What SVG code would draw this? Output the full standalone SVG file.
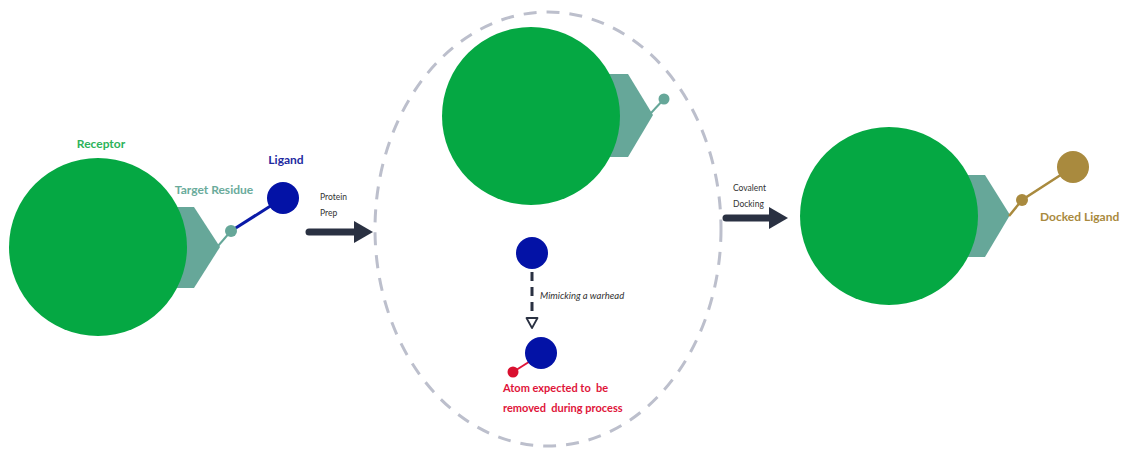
<svg xmlns="http://www.w3.org/2000/svg" width="1123" height="450" viewBox="0 0 1123 450">
<style>
.rec{fill:#05a843}
.res{fill:#66a799}
.lbl{font-family:Lato,"Noto Sans",sans-serif;font-weight:bold;font-size:12px}
.sm{font-family:Lato,"Noto Sans",sans-serif;font-size:8.5px;fill:#333}
.it{font-family:Lato,"Noto Sans",sans-serif;font-size:9.5px;font-style:italic;fill:#333}
.red{font-family:Lato,"Noto Sans",sans-serif;font-weight:bold;font-size:11px;fill:#e0153a;white-space:pre}
.big{fill:#2a3142}
</style>
<rect width="1123" height="450" fill="#fff"/>
<g id="boundary">
<ellipse cx="548" cy="229" rx="173" ry="217" fill="none" stroke="#bcbfcc" stroke-width="3" stroke-dasharray="13 10"/>
</g>
<g id="receptor-left">
<polygon class="res" points="170,207 194,207 220,247 194,288 170,288"/>
<circle class="rec" cx="98" cy="247" r="89"/>
<text class="lbl" x="101" y="148" text-anchor="middle" fill="#2db35a">Receptor</text>
<text class="lbl" x="214" y="194" text-anchor="middle" fill="#6aab9b">Target Residue</text>
</g>
<g id="ligand-left">
<line x1="218" y1="246" x2="231" y2="231" stroke="#66a799" stroke-width="2"/>
<line x1="231" y1="231" x2="283" y2="198" stroke="#0a1aa8" stroke-width="3"/>
<circle cx="231" cy="231" r="6" fill="#66a799"/>
<circle cx="283" cy="198" r="16" fill="#0312a6"/>
<text class="lbl" x="286" y="164" text-anchor="middle" fill="#1e2aa0">Ligand</text>
</g>
<g id="receptor-mid">
<polygon class="res" points="600,74 628,74 653,115 628,157 600,157"/>
<circle class="rec" cx="531" cy="116" r="89"/>
<line x1="651" y1="113" x2="664" y2="99" stroke="#66a799" stroke-width="2"/>
<circle cx="664" cy="99" r="5.5" fill="#66a799"/>
</g>
<g id="ligand-mid-top">
<circle cx="532" cy="253" r="16" fill="#0312a6"/>
</g>
<g id="ligand-mid-bottom">
<line x1="513" y1="372" x2="532" y2="360" stroke="#e0153a" stroke-width="2"/>
<circle cx="513" cy="372" r="5.5" fill="#d9102f"/>
<circle cx="541" cy="353" r="16" fill="#0312a6"/>
<text class="red" x="503" y="392" xml:space="preserve">Atom expected to  be</text>
<text class="red" x="503" y="412" xml:space="preserve">removed  during process</text>
</g>
<g id="receptor-right">
<polygon class="res" points="960,175 985,175 1010,215 985,257 960,257"/>
<circle class="rec" cx="889" cy="216" r="89"/>
</g>
<g id="ligand-right">
<polyline points="1009,216 1022,200 1073,167" fill="none" stroke="#a98a3e" stroke-width="2.5"/>
<circle cx="1022" cy="200" r="6" fill="#a98a3e"/>
<circle cx="1073" cy="167" r="16" fill="#a98a3e"/>
<text class="lbl" x="1040" y="221" fill="#a98a3e">Docked Ligand</text>
</g>
<g id="connectors">
<line x1="309" y1="232" x2="356" y2="232" stroke="#2a3142" stroke-width="7" stroke-linecap="round"/>
<polygon class="big" points="354,221 373,232 354,243"/>
<text class="sm" x="320" y="200">Protein</text>
<text class="sm" x="320" y="216">Prep</text>
<line x1="726" y1="218" x2="772" y2="218" stroke="#2a3142" stroke-width="7" stroke-linecap="round"/>
<polygon class="big" points="769,207 788,218 769,229"/>
<text class="sm" x="733" y="191">Covalent</text>
<text class="sm" x="733" y="207">Docking</text>
<line x1="532" y1="272" x2="532" y2="316" stroke="#2a3142" stroke-width="3" stroke-dasharray="9 6"/>
<polygon points="526.5,318 537.5,318 532,328" fill="#fff" stroke="#2a3142" stroke-width="1.8" stroke-linejoin="round"/>
<text class="it" x="540" y="299">Mimicking a warhead</text>
</g>
</svg>
